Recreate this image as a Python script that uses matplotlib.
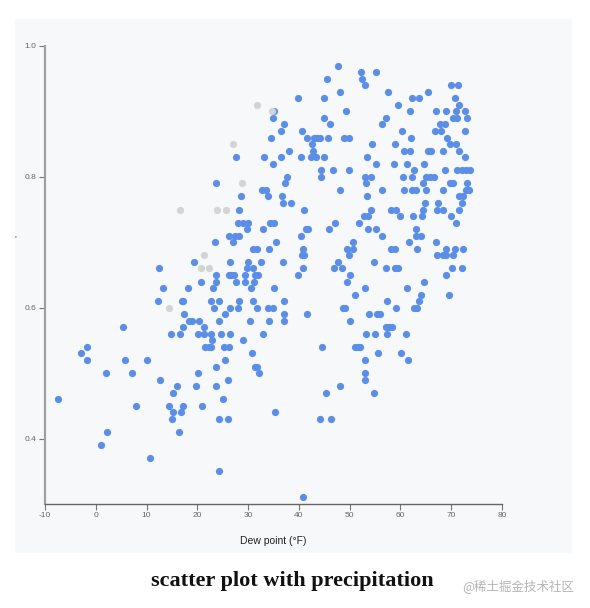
import matplotlib
matplotlib.use('Agg')
import matplotlib.pyplot as plt
from matplotlib.patches import Rectangle

# precipitation levels (one entry per row of dots) and the dew points on each row
precip_levels = [0.97, 0.96, 0.95, 0.94, 0.93, 0.92, 0.91, 0.90, 0.89, 0.88,
                 0.87, 0.86, 0.85, 0.84, 0.83, 0.82, 0.81, 0.80, 0.79, 0.78,
                 0.77, 0.76, 0.75, 0.74, 0.73, 0.72, 0.71, 0.70, 0.69, 0.68,
                 0.67, 0.66, 0.65, 0.64, 0.63, 0.62, 0.61, 0.60, 0.59, 0.58,
                 0.57, 0.56, 0.55, 0.54, 0.53, 0.52, 0.51, 0.50, 0.49, 0.48,
                 0.47, 0.46, 0.45, 0.44, 0.43, 0.41, 0.39, 0.37, 0.35, 0.31]

dew_rows = [
    [47.7],
    [52.3, 55.1],
    [45.6, 52.4],
    [53.1, 69.9, 71.4],
    [48.1, 57.5, 65.5],
    [39.9, 44.9, 62.2, 63.6, 70.7],
    [59.5, 71.5],
    [35.0, 49.3, 61.9, 66.9, 69.0, 71.0, 72.8],
    [34.8, 44.9, 57.1, 70.3, 71.1, 73.1],
    [37.1, 46.2, 56.3, 67.8, 68.8],
    [36.5, 40.6, 60.3, 66.8, 68.0, 72.8],
    [34.6, 41.6, 43.0, 43.5, 44.1, 45.8, 48.8, 49.8, 62.1, 69.1],
    [42.6, 54.4, 59.0, 69.7, 70.9],
    [38.0, 42.7, 60.7, 61.9, 65.5, 66.1, 68.3, 71.6],
    [27.7, 33.1, 36.5, 40.5, 42.3, 43.3, 45.0, 53.5, 72.7],
    [34.8, 55.1, 58.7, 61.2, 64.6],
    [44.3, 46.8, 49.8, 62.6, 68.7, 71.2, 72.1, 72.9, 73.7],
    [37.7, 44.3, 53.1, 54.2, 60.5, 62.2, 65.1, 65.9, 66.6],
    [23.7, 37.2, 53.3, 64.4, 69.7, 70.3, 73.1],
    [32.8, 33.6, 48.1, 56.3, 60.7, 62.2, 63.1, 65.1, 68.4, 72.9, 73.4],
    [28.6, 33.9, 36.7, 53.5, 71.6, 72.4],
    [36.8, 38.4, 64.8, 67.4, 72.2],
    [28.2, 41.1, 54.1, 58.2, 59.2, 64.5, 67.2, 68.4, 71.6],
    [52.9, 53.7, 60.0, 62.4, 64.3, 70.0],
    [28.1, 29.0, 29.9, 34.4, 35.1, 47.2, 51.8, 71.0],
    [29.8, 32.9, 41.3, 41.8, 45.9, 53.7, 55.1, 63.1],
    [26.3, 27.5, 28.2, 40.5, 56.3, 63.1, 64.1],
    [23.5, 27.1, 35.5, 50.6, 61.7, 67.0],
    [31.0, 31.7, 34.2, 40.9, 49.5, 50.6, 58.2, 59.0, 63.2, 69.0, 70.8, 72.4],
    [40.7, 41.1, 49.8, 67.2, 68.4, 69.0, 70.4],
    [19.4, 26.4, 29.9, 32.5, 36.9, 47.7, 54.8],
    [12.4, 29.8, 31.0, 40.9, 47.0, 48.5, 57.2, 59.0, 59.6, 70.2, 72.2],
    [23.6, 26.2, 26.7, 27.3, 29.4, 31.3, 31.9, 39.9, 50.0, 69.0],
    [20.8, 23.7, 27.7, 29.4, 31.2, 49.5, 64.7],
    [13.2, 18.2, 23.1, 30.6, 35.0, 53.0, 61.3],
    [51.0, 64.0, 69.5],
    [12.2, 16.9, 17.2, 22.6, 24.3, 28.2, 31.0, 37.0, 57.3, 63.6],
    [23.3, 26.4, 28.0, 31.8, 33.9, 34.9, 48.6, 49.1, 59.2, 62.7, 63.2],
    [17.4, 25.4, 37.1, 41.6, 53.9, 55.4, 56.0],
    [18.3, 18.9, 20.4, 24.2, 30.4, 34.2, 37.0, 50.0],
    [5.3, 17.2, 21.3, 57.1, 57.7, 58.4],
    [14.9, 16.6, 20.2, 21.3, 22.7, 24.6, 26.5, 32.9, 53.2, 55.0, 57.3, 61.0],
    [22.9, 28.9],
    [-1.8, 21.6, 22.2, 22.7, 25.2, 26.2, 44.5, 51.1, 51.6, 52.0],
    [-3.0, 30.8, 55.5, 60.2],
    [-1.8, 5.8, 10.1, 25.5, 53.1, 61.5],
    [23.7, 31.4, 31.8],
    [2.1, 7.1, 20.2, 32.1, 53.1],
    [12.6, 26.0, 53.0],
    [16.0, 19.7, 23.6, 48.1],
    [15.3, 45.3, 54.7],
    [-7.4, 25.1],
    [7.9, 14.5, 17.2, 21.0],
    [15.2, 16.8, 35.3],
    [15.0, 24.2, 26.0, 44.2, 46.3],
    [2.3, 16.4],
    [1.0],
    [10.7],
    [24.3],
    [40.8],
]

# the grey dots
gray_dew = [31.7, 34.7, 27.0, 28.7, 16.5, 23.8, 25.6, 21.3, 20.8, 22.3, 14.5]
gray_precip = [0.91, 0.90, 0.85, 0.79, 0.75, 0.75, 0.75, 0.68, 0.66, 0.66, 0.60]

x_ticks = [-10, 0, 10, 20, 30, 40, 50, 60, 70, 80]
y_ticks = [0.4, 0.6, 0.8, 1.0]

blue_dew = []
blue_precip = []
for p, row in zip(precip_levels, dew_rows):
    for d in row:
        blue_dew.append(d)
        blue_precip.append(p)

fig = plt.figure(figsize=(5.9, 6.08), dpi=100)
fig.patches.append(Rectangle((0.0254, 0.0905), 0.944, 0.8783, transform=fig.transFigure,
                             facecolor='#f6f8fa', edgecolor='none', zorder=-10))

ax = fig.add_axes([0.0763, 0.1711, 0.7746, 0.7533])
ax.patch.set_alpha(0)
ax.scatter(blue_dew, blue_precip, s=27, color='#5b8ee6', linewidths=0, zorder=2)
ax.scatter(gray_dew, gray_precip, s=27, color='#d4d4d4', linewidths=0, zorder=3)

ax.set_xlim(-10, 80)
ax.set_ylim(0.3, 1.0)
ax.set_xticks(x_ticks)
ax.set_yticks(y_ticks)
ax.set_xticklabels([str(t) for t in x_ticks])
ax.set_yticklabels([f'{t:.1f}' for t in y_ticks])

for side in ['top', 'right']:
    ax.spines[side].set_visible(False)
ax.spines['left'].set_color('#a0a0a0')
ax.spines['left'].set_linewidth(1.6)
ax.spines['bottom'].set_color('#666666')
ax.spines['bottom'].set_linewidth(1.0)
ax.tick_params(axis='both', length=4, width=0.8, color='#777777', labelsize=6,
               labelcolor='#666666', pad=2)
for lab in ax.get_xticklabels() + ax.get_yticklabels():
    lab.set_family('Liberation Sans')

ax.set_xlabel('Dew point (°F)', fontsize=7.5, family='Liberation Sans', color='#222222', labelpad=12)

# stray y label mark
fig.text(15 / 590, 1 - 238 / 608, "'", fontsize=5, color='#333333', ha='center', va='center')

fig.text(0.496, 0.0444, 'scatter plot with precipitation', ha='center', va='center',
         fontsize=16, fontweight='bold', family='Liberation Serif', color='#111111')
fig.text(0.783, 0.036, '@稀土掘金技术社区', ha='left', va='center', fontsize=9,
         family=['Noto Sans CJK SC', 'DejaVu Sans'], color='#b5b5b5')

fig.savefig('out.png', dpi=100)
